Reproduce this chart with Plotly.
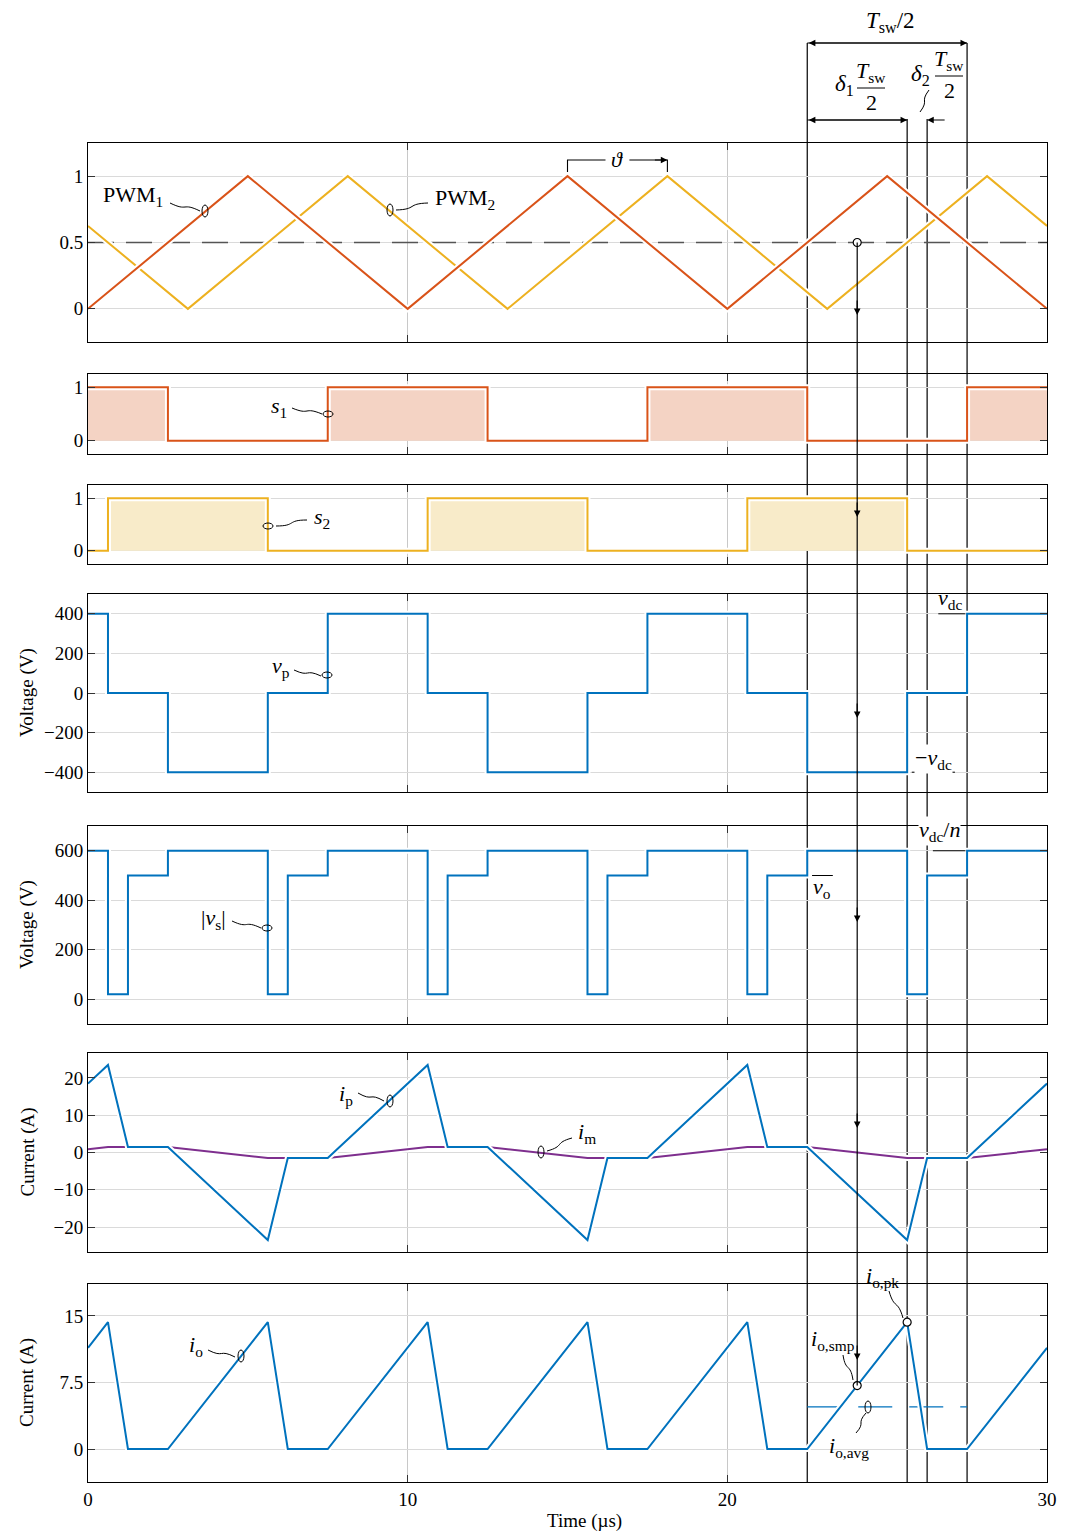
import plotly.graph_objects as go

W, H = 1072, 1536
FONT = "Liberation Serif"

# ---------------- data ----------------
T_SW = 10.0
T0 = 22.5
DELTA1 = 0.625
DELTA2 = 0.125
THETA = 3.125

t_pwm1 = [0, 5, 10, 15, 20, 25, 30]
pwm1 = [0, 1, 0, 1, 0, 1, 0]
t_pwm2 = [0, 3.125, 8.125, 13.125, 18.125, 23.125, 28.125, 30]
pwm2 = [0.625, 0, 1, 0, 1, 0, 1, 0.625]
pwm_ref = 0.5

t_s1 = [0, 2.5, 7.5, 12.5, 17.5, 22.5, 27.5, 30]
s1 = [1, 0, 1, 0, 1, 0, 1, 1]
t_s2 = [0, 0.625, 5.625, 10.625, 15.625, 20.625, 25.625, 30]
s2 = [0, 1, 0, 1, 0, 1, 0, 0]

t_vp = [0, 0.625, 2.5, 5.625, 7.5, 10.625, 12.5, 15.625, 17.5, 20.625, 22.5, 25.625, 27.5, 30]
vp = [400, 0, -400, 0, 400, 0, -400, 0, 400, 0, -400, 0, 400, 400]

t_vs = [0, 0.625, 1.25, 2.5, 5.625, 6.25, 7.5, 10.625, 11.25, 12.5, 15.625, 16.25,
        17.5, 20.625, 21.25, 22.5, 25.625, 26.25, 27.5, 30]
vs_abs = [600, 20, 500, 600, 20, 500, 600, 20, 500, 600, 20, 500,
          600, 20, 500, 600, 20, 500, 600, 600]

t_i = [0, 0.625, 1.25, 2.5, 5.625, 6.25, 7.5, 10.625, 11.25, 12.5, 15.625, 16.25,
       17.5, 20.625, 21.25, 22.5, 25.625, 26.25, 27.5, 30]
ip = [18.5, 23.5, 1.5, 1.5, -23.5, -1.5, -1.5, 23.5, 1.5, 1.5, -23.5, -1.5,
      -1.5, 23.5, 1.5, 1.5, -23.5, -1.5, -1.5, 18.5]
io = [11.4, 14.3, 0, 0, 14.3, 0, 0, 14.3, 0, 0, 14.3, 0,
      0, 14.3, 0, 0, 14.3, 0, 0, 11.4]
t_im = [0, 0.625, 2.5, 5.625, 7.5, 10.625, 12.5, 15.625, 17.5, 20.625, 22.5, 25.625, 27.5, 30]
im = [0.9, 1.5, 1.5, -1.5, -1.5, 1.5, 1.5, -1.5, -1.5, 1.5, 1.5, -1.5, -1.5, 0.9]

io_avg = 4.75
t_smp = 24.0625
io_smp = 7.15
t_pk = 25.625
io_pk = 14.3

C_RED = "#D95319"
C_YEL = "#EDB120"
C_BLUE = "#0072BD"
C_PURP = "#7E2F8E"
F_RED = "#F4D3C4"
F_YEL = "#F8EBC9"

# ---------------- layout geometry ----------------
XL, XR = 88, 1047
panels_px = [(143, 342), (374, 454), (485, 564), (594, 792), (826, 1024), (1053, 1252), (1284, 1482)]
ranges = [[-0.25, 1.25], [-0.25, 1.25], [-0.25, 1.25], [-500, 500], [-100, 700],
          [-26.7, 26.7], [-3.72, 18.6]]
ytickv = [[0, 0.5, 1], [0, 1], [0, 1], [-400, -200, 0, 200, 400], [0, 200, 400, 600],
          [-20, -10, 0, 10, 20], [0, 7.5, 15]]
ytickt = [["0", "0.5", "1"], ["0", "1"], ["0", "1"], ["\u2212400", "\u2212200", "0", "200", "400"],
          ["0", "200", "400", "600"], ["\u221220", "\u221210", "0", "10", "20"], ["0", "7.5", "15"]]
PX_PER_T = (XR - XL) / 30.0


def P(x, y):
    return x / W, 1 - y / H


def val_to_py(k, v):
    top, bot = panels_px[k]
    r0, r1 = ranges[k]
    return top + (r1 - v) / (r1 - r0) * (bot - top)


def t_to_px(t):
    return XL + t * PX_PER_T


fig = go.Figure()


def ax(k):
    return ("x" if k == 0 else f"x{k+1}"), ("y" if k == 0 else f"y{k+1}")


def add_line(k, x, y, color, width=2, shape="linear", halo=True, dash=None):
    xa, ya = ax(k)
    if halo:
        fig.add_trace(go.Scatter(x=x, y=y, mode="lines", line=dict(color="white", width=width + 4, shape=shape),
                                 xaxis=xa, yaxis=ya, hoverinfo="skip", showlegend=False))
    fig.add_trace(go.Scatter(x=x, y=y, mode="lines", line=dict(color=color, width=width, shape=shape, dash=dash),
                             xaxis=xa, yaxis=ya, hoverinfo="skip", showlegend=False))


# panel 1: PWM carriers
xa, ya = ax(0)
fig.add_trace(go.Scatter(x=[0, 30], y=[pwm_ref, pwm_ref], mode="lines",
                         line=dict(color="#555555", width=1.3, dash="26px,12px"),
                         xaxis=xa, yaxis=ya, showlegend=False, hoverinfo="skip"))
add_line(0, t_pwm2, pwm2, C_YEL)
add_line(0, t_pwm1, pwm1, C_RED)

# panel 2 / 3: gate signals with fill
for k, (tt, ss, lc, fc) in enumerate([(t_s1, s1, C_RED, F_RED), (t_s2, s2, C_YEL, F_YEL)], start=1):
    xa, ya = ax(k)
    fig.add_trace(go.Scatter(x=tt, y=ss, mode="lines", line=dict(width=0, shape="hv"), fill="tozeroy",
                             fillcolor=fc, xaxis=xa, yaxis=ya, showlegend=False, hoverinfo="skip"))
    add_line(k, tt, ss, lc, shape="hv")

# panel 4: vp
add_line(3, t_vp, vp, C_BLUE, shape="hv")
# panel 5: |vs|
add_line(4, t_vs, vs_abs, C_BLUE, shape="hv")
# panel 6: ip, im
add_line(5, t_im, im, C_PURP)
add_line(5, t_i, ip, C_BLUE)
# panel 7: io
xa, ya = ax(6)
fig.add_trace(go.Scatter(x=[T0, T0 + T_SW / 2], y=[io_avg, io_avg], mode="lines",
                         line=dict(color=C_BLUE, width=1.3, dash="34px,17px"),
                         xaxis=xa, yaxis=ya, showlegend=False, hoverinfo="skip"))
add_line(6, t_i, io, C_BLUE)

# markers
mk = dict(symbol="circle", size=8, color="white", line=dict(color="black", width=1.2))
xa, ya = ax(0)
fig.add_trace(go.Scatter(x=[t_smp], y=[pwm_ref], mode="markers", marker=mk, xaxis=xa, yaxis=ya,
                         showlegend=False, hoverinfo="skip"))
xa, ya = ax(6)
fig.add_trace(go.Scatter(x=[t_smp, t_pk], y=[io_smp, io_pk], mode="markers", marker=mk, xaxis=xa, yaxis=ya,
                         showlegend=False, hoverinfo="skip"))

# ---------------- axes ----------------
layout = dict(template="none", width=W, height=H, autosize=False,
              margin=dict(l=0, r=0, t=0, b=0, pad=0), paper_bgcolor="white",
              plot_bgcolor="rgba(0,0,0,0)", showlegend=False,
              font=dict(family=FONT, size=19, color="black"))
for k in range(7):
    top, bot = panels_px[k]
    xname = "xaxis" if k == 0 else f"xaxis{k+1}"
    yname = "yaxis" if k == 0 else f"yaxis{k+1}"
    xa, ya = ax(k)
    layout[xname] = dict(domain=[XL / W, XR / W], range=[0, 30], anchor=ya, tickvals=[0, 10, 20, 30],
                         ticktext=["0", "10", "20", "30"],
                         showticklabels=(k == 6), ticks="inside", ticklen=7, tickcolor="#333333",
                         showline=True, linecolor="black", linewidth=1, mirror="ticks",
                         showgrid=True, gridcolor="#c8c8c8", gridwidth=1, zeroline=False,
                         automargin=False, tickfont=dict(family=FONT, size=19))
    layout[yname] = dict(domain=[1 - bot / H, 1 - top / H], range=ranges[k], anchor=xa,
                         tickvals=ytickv[k], ticktext=ytickt[k], ticks="inside", ticklen=7,
                         tickcolor="#333333", showline=True, linecolor="black", linewidth=1,
                         mirror="ticks", showgrid=True, gridcolor="#dadada", gridwidth=1,
                         zeroline=False, automargin=False, tickfont=dict(family=FONT, size=19))
fig.update_layout(**layout)

# ---------------- guide shapes ----------------
shapes = []
t_a = T0
t_b = T0 + DELTA1 * T_SW / 2
t_c = T0 + (DELTA1 + DELTA2) * T_SW / 2
t_d = T0 + T_SW / 2
ybot = 1 - panels_px[6][1] / H
for t, ytop_px in [(t_a, 43), (t_d, 43), (t_b, 119), (t_c, 119)]:
    shapes.append(dict(type="line", xref="x", yref="paper", x0=t, x1=t, y0=P(0, ytop_px)[1], y1=ybot,
                       line=dict(color="black", width=1.2), layer="below"))
# sampling line
y_s0 = P(0, val_to_py(0, pwm_ref))[1]
y_s1 = P(0, val_to_py(6, io_smp))[1]
shapes.append(dict(type="line", xref="x", yref="paper", x0=t_smp, x1=t_smp, y0=y_s0, y1=y_s1,
                   line=dict(color="black", width=1.2), layer="above"))
# horizontal arrow shafts
for y_px, ta, tb in [(43, t_a, t_d), (120, t_a, t_b)]:
    shapes.append(dict(type="line", xref="x", yref="paper", x0=ta, x1=tb, y0=P(0, y_px)[1], y1=P(0, y_px)[1],
                       line=dict(color="black", width=1.2)))
# fraction bars
for x0, x1, y in [(857, 885, 88), (935, 963, 76)]:
    shapes.append(dict(type="line", xref="paper", yref="paper", x0=x0 / W, x1=x1 / W,
                       y0=P(0, y)[1], y1=P(0, y)[1], line=dict(color="black", width=1)))
# theta bracket
pk1 = 15.0
pk2 = pk1 + THETA
yb0, yb1 = P(0, 172)[1], P(0, 160)[1]
shapes.append(dict(type="path", xref="paper", yref="paper",
                   path=f"M {t_to_px(pk1)/W},{yb0} L {t_to_px(pk1)/W},{yb1} L {(t_to_px(pk1)+38)/W},{yb1}",
                   line=dict(color="black", width=1.1)))
shapes.append(dict(type="path", xref="paper", yref="paper",
                   path=f"M {(t_to_px(pk2)-38)/W},{yb1} L {t_to_px(pk2)/W},{yb1} L {t_to_px(pk2)/W},{yb0}",
                   line=dict(color="black", width=1.1)))
# level bars next to labels
for k, lvl, ta, tb in [(3, 400, 26.6, 27.45), (3, -400, 25.77, 27.12), (4, 600, 26.43, 27.45), (4, 500, 22.65, 23.3)]:
    xa, ya = ax(k)
    shapes.append(dict(type="line", xref=xa, yref=ya, x0=ta, x1=tb, y0=lvl, y1=lvl,
                       line=dict(color="black", width=1)))


def squiggle(x0, y0, x1, y1, amp=4.0):
    dx, dy = x1 - x0, y1 - y0
    L = (dx * dx + dy * dy) ** 0.5
    nx, ny = -dy / L, dx / L
    c1 = (x0 + 0.65 * dx + amp * nx, y0 + 0.65 * dy + amp * ny)
    c2 = (x0 + 0.35 * dx - amp * nx, y0 + 0.35 * dy - amp * ny)
    pts = [P(x0, y0), P(*c1), P(*c2), P(x1, y1)]
    path = "M {},{} C {},{} {},{} {},{}".format(*[v for p in pts for v in p])
    return dict(type="path", xref="paper", yref="paper", path=path, line=dict(color="black", width=1))


def loop(cx, cy, horizontal):
    rx, ry = (5, 3) if horizontal else (3, 6)
    return dict(type="circle", xref="paper", yref="paper", x0=(cx - rx) / W, x1=(cx + rx) / W,
                y0=1 - (cy + ry) / H, y1=1 - (cy - ry) / H, line=dict(color="black", width=1))


leaders = [
    (170, 203, 200, 211, (205, 211, False)),  # PWM1
    (428, 203, 396, 210, (390, 210, False)),  # PWM2
    (292, 408, 322, 414, (328, 414, True)),   # s1
    (307, 520, 276, 526, (268, 526, True)),   # s2
    (294, 670, 321, 676, (327, 675, True)),   # vp
    (232, 921, 261, 928, (267, 928, True)),   # |vs|
    (358, 1093, 384, 1101, (390, 1101, False)),  # ip
    (572, 1138, 547, 1151, (541, 1152, False)),  # im
    (208, 1350, 235, 1357, (241, 1356, False)),  # io
    (843, 1355, 853, 1380, None),  # io,smp
    (889, 1291, 903, 1318, None),  # io,pk
    (856, 1433, 866, 1413, (868, 1407, False)),  # io,avg
    (929, 90, 920, 112, None),  # delta2
]
for x0, y0, x1, y1, lp in leaders:
    shapes.append(squiggle(x0, y0, x1, y1))
    if lp:
        shapes.append(loop(lp[0], lp[1], lp[2]))

fig.update_layout(shapes=shapes)

# ---------------- annotations ----------------
ann = []


def text(x, y, s, size=20, **kw):
    px, py = P(x, y)
    d = dict(x=px, y=py, xref="paper", yref="paper", text=s, showarrow=False,
             font=dict(family=FONT, size=size, color="black"), xanchor="center", yanchor="middle")
    d.update(kw)
    ann.append(d)


LS = 22
text(133, 196, "PWM<sub>1</sub>", LS)
text(465, 199, "PWM<sub>2</sub>", LS)
text(279, 407, "<i>s</i><sub>1</sub>", LS)
text(322, 518, "<i>s</i><sub>2</sub>", LS)
text(281, 667, "<i>v</i><sub>p</sub>", LS)
text(213, 919, "|<i>v</i><sub>s</sub>|", LS)
text(346, 1095, "<i>i</i><sub>p</sub>", LS)
text(587, 1133, "<i>i</i><sub>m</sub>", LS)
text(196, 1346, "<i>i</i><sub>o</sub>", LS)
text(833, 1340, "<i>i</i><sub>o,smp</sub>", LS)
text(882, 1277, "<i>i</i><sub>o,pk</sub>", LS)
text(849, 1447, "<i>i</i><sub>o,avg</sub>", LS)
text(950, 599, "<i>v</i><sub>dc</sub>", LS)
text(933, 759, "\u2212<i>v</i><sub>dc</sub>", LS, bgcolor="white", borderpad=0)
text(939, 831, "<i>v</i><sub>dc</sub>/<i>n</i>", LS, bgcolor="white", borderpad=0)
text(822, 888, "<i>v</i><sub>o</sub>", LS)
text(617, 159, "<i>\u03d1</i>", LS)
text(890, 22, "<i>T</i><sub>sw</sub>/2", 23)
text(844, 85, "<i>\u03b4</i><sub>1</sub>", 23)
text(871, 72, "<i>T</i><sub>sw</sub>", LS)
text(871, 102, "2", LS)
text(920, 75, "<i>\u03b4</i><sub>2</sub>", 23)
text(949, 60, "<i>T</i><sub>sw</sub>", LS)
text(949, 91, "2", LS)
text(584, 1521, "Time (\u00b5s)", 19)
for k, lab in [(3, "Voltage (V)"), (4, "Voltage (V)"), (5, "Current (A)"), (6, "Current (A)")]:
    top, bot = panels_px[k]
    text(27, (top + bot) / 2, lab, 19, textangle=-90)


# arrowheads
def arrow_ann(xt, ypx, axpx, aypx, side="end"):
    ann.append(dict(x=xt, y=P(0, ypx)[1], xref="x", yref="paper", ax=axpx, ay=aypx, axref="pixel",
                    ayref="pixel", showarrow=True, arrowhead=2, arrowsize=1.1, arrowwidth=1.2,
                    arrowcolor="black", arrowside=side, text=""))


for ypx in [315, 517, 718, 922, 1128, 1360]:
    arrow_ann(t_smp, ypx, 0, -16)
# top double arrows
arrow_ann(t_d, 43, -(t_d - t_a) * PX_PER_T, 0, "end+start")
arrow_ann(t_b, 120, -(t_b - t_a) * PX_PER_T, 0, "end+start")
arrow_ann(t_c, 120, 19, 0)
# theta arrow head
arrow_ann(pk2, 160, -14, 0)

fig.update_layout(annotations=ann)
fig.write_html("out.html", config={"responsive": False})
